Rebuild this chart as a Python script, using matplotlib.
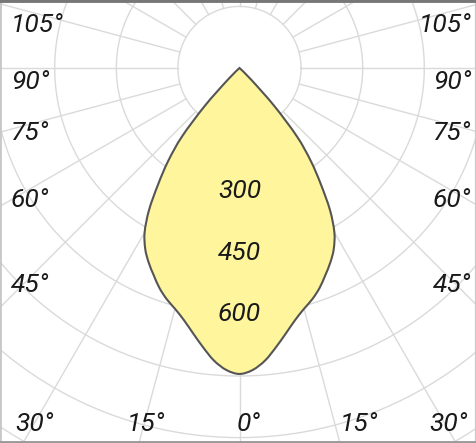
# Polar light distribution curve (intensity in cd, gamma measured from nadir)
import numpy as np
import matplotlib.pyplot as plt
from matplotlib.path import Path
from matplotlib.patches import PathPatch

# --- data ---
gamma = [0, 2.5, 5, 7.5, 10, 12.5, 15, 17.5, 20, 22.5, 25, 27.5,
         30, 32.5, 35, 37.5, 40, 42.5, 45, 47.5]
intensity = [745, 736, 715, 685, 655, 628, 607, 590, 570, 546, 523, 497,
             462, 410, 345, 285, 218, 125, 40, 0]

ring_values = [150, 300, 450, 600, 750, 900, 1050, 1200, 1350]
ring_labels = [300, 450, 600]
spoke_step = 15

side_labels = ["105°", "90°", "75°", "60°", "45°"]
side_label_y = [25, 82, 133, 200, 285]          # pixel rows
bottom_labels = ["30°", "15°", "0°", "15°", "30°"]
bottom_label_x = [15, 127, 237, 340, 429]       # pixel columns (left edge)

W, H = 477, 443
cx, cy = 239.5, 68.0
px_per_cd = 61.6 / 150

fig = plt.figure(figsize=(W / 100, H / 100), dpi=100)
ax = fig.add_axes([0, 0, 1, 1])
ax.set_xlim(-cx / px_per_cd, (W - cx) / px_per_cd)
ax.set_ylim(-(H - cy) / px_per_cd, cy / px_per_cd)
ax.set_xticks([])
ax.set_yticks([])

grid_col = "#dadada"
t = np.linspace(0, 2 * np.pi, 720)
for r in ring_values:
    ax.plot(r * np.cos(t), r * np.sin(t), color=grid_col, lw=1.0, zorder=1)
for a in np.arange(0, 360, spoke_step):
    ar = np.radians(a)
    r0, r1 = ring_values[0], 2000
    ax.plot([r0 * np.sin(ar), r1 * np.sin(ar)], [-r0 * np.cos(ar), -r1 * np.cos(ar)],
            color=grid_col, lw=1.0, zorder=1)

# curve: mirror the half plane, draw it as a smooth bezier path through the points
g = np.radians(np.array(gamma))
I = np.array(intensity, dtype=float)
ang = np.concatenate([-g[::-1], g[1:]])
rad = np.concatenate([I[::-1], I[1:]])
P = np.column_stack([rad * np.sin(ang), -rad * np.cos(ang)])
Pe = np.vstack([P[0], P, P[-1]])
verts, codes = [P[0]], [Path.MOVETO]
for i in range(1, len(Pe) - 2):
    c1 = Pe[i] + (Pe[i + 1] - Pe[i - 1]) / 6
    c2 = Pe[i + 1] - (Pe[i + 2] - Pe[i]) / 6
    verts += [c1, c2, Pe[i + 1]]
    codes += [Path.CURVE4] * 3
verts.append(P[0])
codes.append(Path.CLOSEPOLY)
ax.add_patch(PathPatch(Path(verts, codes), facecolor="#fff59d", edgecolor="#555555",
                       lw=1.5, joinstyle="miter", zorder=3))

font = dict(family=["Roboto", "DejaVu Sans"], style="italic", weight="normal",
            color="#1a1a1a", fontsize=19)

for v in ring_labels:
    ax.text(0, -v, str(v), ha="center", va="center", zorder=4, **font)

for lab, py in zip(side_labels, side_label_y):
    fig.text(11 / W, 1 - py / H, lab, ha="left", va="center", **font)
    fig.text(471 / W, 1 - py / H, lab, ha="right", va="center", **font)
for lab, px in zip(bottom_labels, bottom_label_x):
    fig.text(px / W, 1 - 424 / H, lab, ha="left", va="center", **font)

for side, col, lw in [("top", "#777777", 3.5), ("left", "#c8c8c8", 2),
                      ("bottom", "#999999", 3.5), ("right", "#c8c8c8", 3)]:
    ax.spines[side].set_color(col)
    ax.spines[side].set_linewidth(lw)

fig.savefig("out.png", dpi=100)
